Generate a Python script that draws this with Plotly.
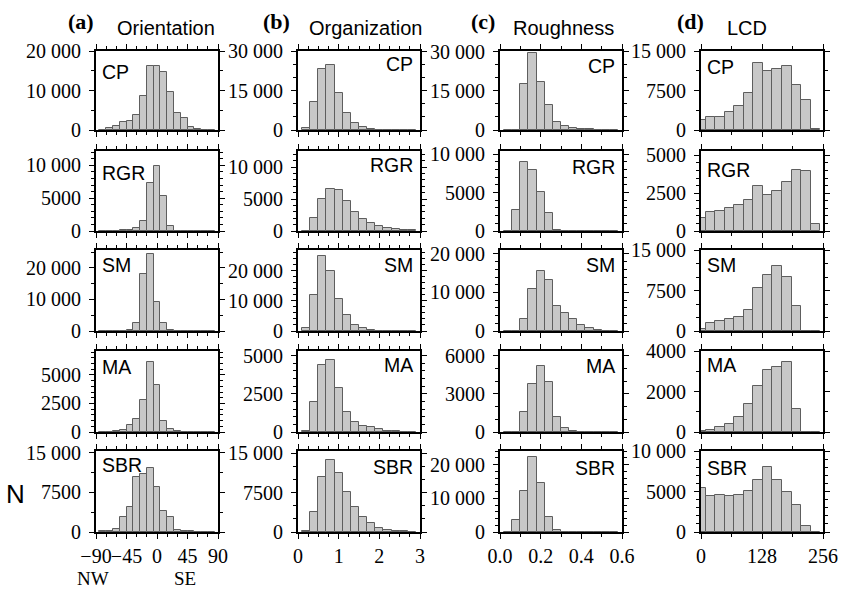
import plotly.graph_objects as go

# ---------------- data ----------------
ORIENT_X = [-80, -70, -60, -50, -40, -30, -20, -10, 0, 10, 20, 30, 40, 50, 60, 70, 80]
ORIENT_CP = [50, 400, 1000, 2100, 2300, 3800, 8700, 16300, 16300, 14800, 9500, 4200, 3000, 700, 150, 0, 0]
ORIENT_RGR = [0, 0, 0, 100, 200, 450, 1600, 7300, 9900, 5400, 800, 0, 0, 0, 0, 0, 0]
ORIENT_SM = [0, 0, 0, 0, 400, 2550, 18000, 24400, 9250, 2550, 400, 100, 0, 0, 0, 0, 0]
ORIENT_MA = [0, 0, 50, 150, 640, 1160, 2820, 6160, 4130, 990, 250, 50, 0, 0, 0, 0, 0]
ORIENT_SBR = [100, 100, 650, 2750, 4700, 10400, 10900, 12100, 8500, 4050, 2900, 300, 250, 150, 50, 0, 0]

ORG_X = [0.2, 0.4, 0.6, 0.8, 1.0, 1.2, 1.4, 1.6, 1.8, 2.0, 2.2, 2.4, 2.6, 2.8]
ORG_CP = [800, 10600, 23200, 24600, 14200, 6400, 2800, 1000, 400, 150, 50, 0, 0, 0]
ORG_RGR = [0, 2030, 5050, 6500, 6400, 4640, 2900, 1930, 1250, 780, 420, 260, 160, 100]
ORG_SM = [1000, 12100, 24900, 20000, 10500, 5200, 2100, 900, 200, 0, 0, 0, 0, 0]
ORG_MA = [70, 1950, 4400, 4700, 2900, 1300, 630, 400, 300, 200, 90, 40, 0, 0]
ORG_SBR = [100, 3800, 10400, 13700, 11300, 7600, 4700, 2800, 1700, 800, 450, 250, 100, 0]

ROUGH_X = [0.04, 0.08, 0.12, 0.16, 0.20, 0.24, 0.28, 0.32, 0.36, 0.40, 0.44, 0.48, 0.52, 0.56]
ROUGH_CP = [0, 0, 17700, 29500, 18400, 9600, 3200, 1500, 800, 500, 300, 150, 0, 0]
ROUGH_RGR = [0, 2800, 9000, 8000, 5100, 2400, 150, 0, 0, 0, 0, 0, 0, 0]
ROUGH_SM = [0, 0, 3200, 11000, 15650, 13200, 6600, 4700, 3100, 1480, 780, 350, 100, 0]
ROUGH_MA = [0, 0, 1570, 3800, 5200, 3900, 1200, 300, 50, 0, 0, 0, 0, 0]
ROUGH_SBR = [0, 3700, 12200, 22100, 14600, 4500, 500, 0, 0, 0, 0, 0, 0, 0]

LCD_X = [0, 20, 40, 60, 80, 100, 120, 140, 160, 180, 200, 220, 240]
LCD_CP = [1900, 2400, 2400, 3350, 4600, 7000, 12650, 11270, 11500, 12150, 8600, 5760, 100]
LCD_RGR = [880, 1250, 1300, 1520, 1740, 2030, 2970, 2360, 2670, 3240, 4030, 3940, 440]
LCD_SM = [400, 1400, 1900, 2200, 2600, 3800, 8000, 10400, 12000, 10000, 4600, 0, 0]
LCD_MA = [30, 80, 250, 400, 720, 1380, 2280, 3070, 3220, 3480, 1130, 0, 0]
LCD_SBR = [5450, 4420, 4630, 4460, 4590, 5080, 6400, 7970, 6400, 4880, 3390, 700, 0]

REGIONS = ["CP", "RGR", "SM", "MA", "SBR"]
COL_TITLES = ["Orientation", "Organization", "Roughness", "LCD"]
COL_LETTERS = ["(a)", "(b)", "(c)", "(d)"]

# x axes
X_RANGES = [[-90, 90], [0, 3], [0, 0.6], [0, 256]]
X_TICKVALS = [[-90, -45, 0, 45, 90], [0, 1, 2, 3], [0, 0.2, 0.4, 0.6], [0, 128, 256]]
X_TICKTEXT = [["\u221290", "\u221245", "0", "45", "90"], ["0", "1", "2", "3"],
              ["0.0", "0.2", "0.4", "0.6"], ["0", "128", "256"]]
BIN_WIDTH = [10, 0.2, 0.04, 20]

# y axes (row-major: rows = regions, cols = variables)
Y_MAX = [[20000, 30000, 30300, 15000],
         [12200, 12500, 10430, 5290],
         [25700, 26900, 21000, 15000],
         [7100, 5300, 6370, 4000],
         [15300, 15400, 24000, 10000]]
Y_TICKS = [[[0, 10000, 20000], [0, 15000, 30000], [0, 15000, 30000], [0, 7500, 15000]],
           [[0, 5000, 10000], [0, 5000, 10000], [0, 5000, 10000], [0, 2500, 5000]],
           [[0, 10000, 20000], [0, 10000, 20000], [0, 10000, 20000], [0, 7500, 15000]],
           [[0, 2500, 5000], [0, 2500, 5000], [0, 3000, 6000], [0, 2000, 4000]],
           [[0, 7500, 15000], [0, 7500, 15000], [0, 10000, 20000], [0, 5000, 10000]]]

DATA = [[ORIENT_CP, ORG_CP, ROUGH_CP, LCD_CP],
        [ORIENT_RGR, ORG_RGR, ROUGH_RGR, LCD_RGR],
        [ORIENT_SM, ORG_SM, ROUGH_SM, LCD_SM],
        [ORIENT_MA, ORG_MA, ROUGH_MA, LCD_MA],
        [ORIENT_SBR, ORG_SBR, ROUGH_SBR, LCD_SBR]]
XS = [ORIENT_X, ORG_X, ROUGH_X, LCD_X]

# ---------------- layout geometry (pixels) ----------------
W, H = 841, 590
COL_LEFT = [96, 298, 500, 701]
COL_W = 122
ROW_TOP = [51, 151, 250, 351, 451]
ROW_BOT = [130, 231, 331, 432, 532]
Y_MINOR = [[5000, 5000, 5000, 3750],
           [1000, 1000, 1000, 500],
           [5000, 2000, 2000, 2500],
           [500, 500, 1000, 1000],
           [3750, 2500, 2000, 1000]]
X_MINOR = [15, 0.25, 0.1, 64]
LABEL_OFF = [[20.5, 13, 15, 15.5],
             [22.5, 14, 16, 19],
             [14.5, 15, 15, 15],
             [16, 14, 15, 14],
             [14, 16, 16.5, 17]]


def px(x):
    return x / W


def py(y):
    return 1 - y / H


def fmt(v):
    if v >= 10000:
        return f"{v // 1000} 000"
    return str(v)


SERIF = "Liberation Serif"
SANS = "Liberation Sans"

fig = go.Figure()
layout = dict(
    width=W, height=H, margin=dict(l=0, r=0, t=0, b=0, autoexpand=False),
    paper_bgcolor="white", plot_bgcolor="white", showlegend=False,
    bargap=0,
)
annotations = []

for r in range(5):
    for c in range(4):
        k = r * 4 + c + 1
        xa = "x" if k == 1 else f"x{k}"
        ya = "y" if k == 1 else f"y{k}"
        fig.add_trace(go.Bar(
            x=XS[c], y=DATA[r][c], width=BIN_WIDTH[c],
            xaxis=xa, yaxis=ya,
            marker=dict(color="#c8c8c8", line=dict(color="#5e5e5e", width=1)),
            hoverinfo="x+y",
        ))
        common = dict(
            showline=True, linecolor="black", linewidth=2, mirror="allticks",
            ticks="outside", ticklen=5, tickwidth=1, tickcolor="black",
            showgrid=False, zeroline=False, automargin=False,
            tickfont=dict(family=SERIF, size=20, color="black"),
        )
        layout[f"xaxis{k}"] = dict(
            common,
            domain=[px(COL_LEFT[c]), px(COL_LEFT[c] + COL_W)],
            anchor=ya, range=X_RANGES[c],
            tickmode="array", tickvals=X_TICKVALS[c], ticktext=X_TICKTEXT[c],
            showticklabels=(r == 4), tickangle=0, ticklabelstandoff=0,
            minor=dict(ticks="outside", ticklen=3, tickwidth=1, tickcolor="black",
                       dtick=X_MINOR[c], tick0=0),
        )
        layout[f"yaxis{k}"] = dict(
            common,
            domain=[py(ROW_BOT[r]), py(ROW_TOP[r])],
            anchor=xa, range=[0, Y_MAX[r][c]],
            tickmode="array", tickvals=Y_TICKS[r][c],
            ticktext=[fmt(v) for v in Y_TICKS[r][c]],
            ticklabelstandoff=4,
            minor=dict(ticks="outside", ticklen=3, tickwidth=1, tickcolor="black",
                       dtick=Y_MINOR[r][c], tick0=0),
        )
        # region label
        yc = ROW_TOP[r] + LABEL_OFF[r][c]
        if c in (0, 3):
            xx, anc = COL_LEFT[c] + 4, "left"
        else:
            xx, anc = COL_LEFT[c] + COL_W - 5, "right"
        annotations.append(dict(
            text=REGIONS[r], x=px(xx), y=py(yc), xref="paper", yref="paper",
            xanchor=anc, yanchor="middle", showarrow=False,
            font=dict(family=SANS, size=19.5, color="black"),
        ))

# column titles
LETTER_X = [81, 276, 483, 690]
TITLE_X = [166, 365, 563, 747]
for c in range(4):
    annotations.append(dict(text=f"<b>{COL_LETTERS[c]}</b>", x=px(LETTER_X[c]), y=py(22),
                            xref="paper", yref="paper", xanchor="center", yanchor="middle",
                            showarrow=False, font=dict(family=SERIF, size=22, color="black")))
    annotations.append(dict(text=COL_TITLES[c], x=px(TITLE_X[c]), y=py(28),
                            xref="paper", yref="paper", xanchor="center", yanchor="middle",
                            showarrow=False, font=dict(family=SANS, size=20, color="black")))

annotations.append(dict(text="N", x=px(16), y=py(494), xref="paper", yref="paper",
                        xanchor="center", yanchor="middle", showarrow=False,
                        font=dict(family=SANS, size=26, color="black")))
annotations.append(dict(text="NW", x=px(93), y=py(578.5), xref="paper", yref="paper",
                        xanchor="center", yanchor="middle", showarrow=False,
                        font=dict(family=SERIF, size=19, color="black")))
annotations.append(dict(text="SE", x=px(185), y=py(578.5), xref="paper", yref="paper",
                        xanchor="center", yanchor="middle", showarrow=False,
                        font=dict(family=SERIF, size=19, color="black")))

layout["annotations"] = annotations
fig.update_layout(**layout)
fig.write_html(
    "out.html",
    config={"displayModeBar": False},
    post_script="document.body.style.margin='0';document.body.style.padding='0';"
                "document.body.style.overflow='hidden';",
)
